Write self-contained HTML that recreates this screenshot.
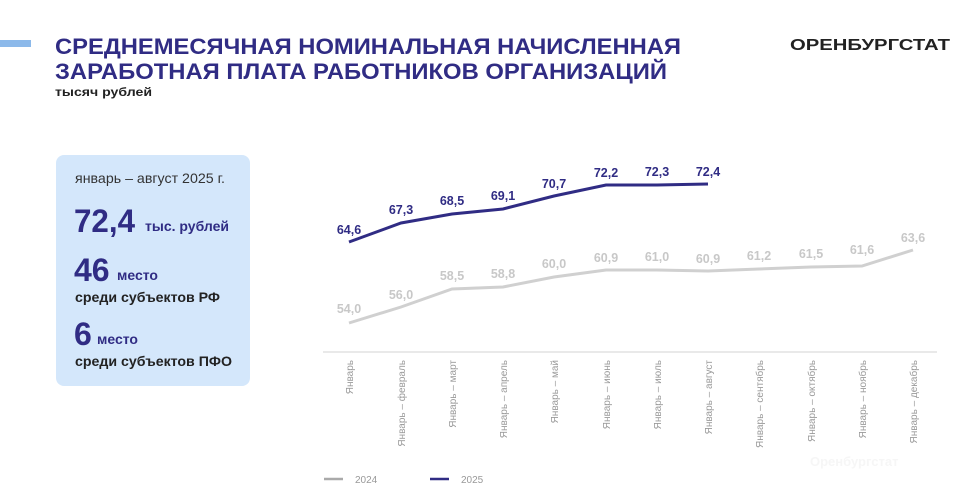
<!DOCTYPE html>
<html><head><meta charset="utf-8"><style>
html,body{margin:0;padding:0;background:#fff;}
svg{display:block;font-family:"Liberation Sans",sans-serif;}
</style></head><body>
<svg width="980" height="500" viewBox="0 0 980 500" xmlns="http://www.w3.org/2000/svg">
<rect x="0" y="40" width="31" height="7" fill="#8cb9ea"/>
<text x="55" y="54" font-size="22" font-weight="bold" fill="#302c84" textLength="626" lengthAdjust="spacingAndGlyphs">СРЕДНЕМЕСЯЧНАЯ НОМИНАЛЬНАЯ НАЧИСЛЕННАЯ</text>
<text x="55" y="79" font-size="22" font-weight="bold" fill="#302c84" textLength="612" lengthAdjust="spacingAndGlyphs">ЗАРАБОТНАЯ ПЛАТА РАБОТНИКОВ ОРГАНИЗАЦИЙ</text>
<text x="55" y="96" font-size="12" font-weight="bold" fill="#222" textLength="97" lengthAdjust="spacingAndGlyphs">тысяч рублей</text>
<text x="790" y="50" font-size="16" font-weight="bold" fill="#222" textLength="160" lengthAdjust="spacingAndGlyphs">ОРЕНБУРГСТАТ</text>

<rect x="56" y="155" width="194" height="231" rx="8" fill="#d4e7fb"/>
<text x="75" y="183" font-size="14" fill="#333" textLength="150" lengthAdjust="spacingAndGlyphs">январь – август 2025 г.</text>
<text x="74" y="232" font-size="32" font-weight="bold" fill="#302c84" textLength="61" lengthAdjust="spacingAndGlyphs">72,4</text>
<text x="145" y="231" font-size="14" font-weight="bold" fill="#302c84" textLength="84" lengthAdjust="spacingAndGlyphs">тыс. рублей</text>
<text x="74" y="281" font-size="32" font-weight="bold" fill="#302c84">46</text>
<text x="117" y="280" font-size="14" font-weight="bold" fill="#302c84">место</text>
<text x="75" y="302" font-size="14" font-weight="bold" fill="#222" textLength="145" lengthAdjust="spacingAndGlyphs">среди субъектов РФ</text>
<text x="74" y="345" font-size="32" font-weight="bold" fill="#302c84">6</text>
<text x="97" y="344" font-size="14" font-weight="bold" fill="#302c84">место</text>
<text x="75" y="366" font-size="14" font-weight="bold" fill="#222" textLength="157" lengthAdjust="spacingAndGlyphs">среди субъектов ПФО</text>

<line x1="323" y1="352" x2="937" y2="352" stroke="#e2e2e2" stroke-width="1.5"/>
<polyline fill="none" stroke="#d0d0d0" stroke-width="3" points="349,323 401,307 452,289 503,287 554,277 606,270 657,270 708,271 759,269 811,267 862,266 913,250"/>
<polyline fill="none" stroke="#302c84" stroke-width="3" points="349,242 401,223 452,214 503,209 554,196 606,185 657,185 708,184"/>
<g font-size="12.5" fill="#c8c8c8" text-anchor="middle" font-weight="bold">
<text x="349" y="313">54,0</text><text x="401" y="299">56,0</text><text x="452" y="280">58,5</text><text x="503" y="278">58,8</text><text x="554" y="268">60,0</text><text x="606" y="262">60,9</text><text x="657" y="261">61,0</text><text x="708" y="263">60,9</text><text x="759" y="260">61,2</text><text x="811" y="258">61,5</text><text x="862" y="254">61,6</text><text x="913" y="242">63,6</text>
</g>
<g font-size="12.5" fill="#302c84" text-anchor="middle" font-weight="bold">
<text x="349" y="234">64,6</text><text x="401" y="214">67,3</text><text x="452" y="205">68,5</text><text x="503" y="200">69,1</text><text x="554" y="188">70,7</text><text x="606" y="177">72,2</text><text x="657" y="176">72,3</text><text x="708" y="176">72,4</text>
</g>
<g font-size="10" fill="#9a9a9a" text-anchor="end">
<text transform="translate(353,360) rotate(-90)">Январь</text>
<text transform="translate(405,360) rotate(-90)">Январь – февраль</text>
<text transform="translate(456,360) rotate(-90)">Январь – март</text>
<text transform="translate(507,360) rotate(-90)">Январь – апрель</text>
<text transform="translate(558,360) rotate(-90)">Январь – май</text>
<text transform="translate(610,360) rotate(-90)">Январь – июнь</text>
<text transform="translate(661,360) rotate(-90)">Январь – июль</text>
<text transform="translate(712,360) rotate(-90)">Январь – август</text>
<text transform="translate(763,360) rotate(-90)">Январь – сентябрь</text>
<text transform="translate(815,360) rotate(-90)">Январь – октябрь</text>
<text transform="translate(866,360) rotate(-90)">Январь – ноябрь</text>
<text transform="translate(917,360) rotate(-90)">Январь – декабрь</text>
</g>
<line x1="324" y1="479" x2="343" y2="479" stroke="#aaa" stroke-width="2.5"/>
<text x="355" y="483" font-size="10" fill="#999">2024</text>
<line x1="430" y1="479" x2="449" y2="479" stroke="#302c84" stroke-width="2.5"/>
<text x="461" y="483" font-size="10" fill="#999">2025</text>
<text x="810" y="466" font-size="13" font-weight="bold" fill="#f6f6f6">Оренбургстат</text>
</svg>
</body></html>
